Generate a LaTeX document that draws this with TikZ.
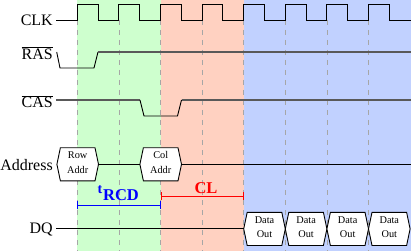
\documentclass[tikz,border=0pt]{standalone}
\usepackage{fontspec}
\setmainfont{Liberation Serif}
\usetikzlibrary{arrows.meta}
\definecolor{cgreen}{RGB}{206,255,206}
\definecolor{csalmon}{RGB}{255,209,193}
\definecolor{cblue}{RGB}{193,209,255}
\definecolor{cdblue}{RGB}{0,0,255}
\definecolor{cred}{RGB}{255,0,0}
\begin{document}
\begin{tikzpicture}[x=1pt,y=-1pt,
  sig/.style={line width=0.9pt, draw=black},
  hi/.style={line width=1.6pt, draw=black!65},
  gridline/.style={draw=black!35, dash pattern=on 5pt off 5pt, line width=0.8pt},
  lab/.style={font=\fontsize{16}{19}\selectfont, anchor=base east, inner sep=0pt},
  small/.style={font=\fontsize{10.3}{12}\selectfont, inner sep=0pt, anchor=base},
  hexa/.style={line width=0.9pt, draw=black, fill=white},
  pics/hexcell/.style 2 args={code={
    \draw[hexa] (-20.8,0) coordinate (-w) -- (-17.3,-16.6) -- (17.3,-16.6)
      -- (20.8,0) coordinate (-e) -- (17.3,16.6) -- (-17.3,16.6) -- cycle;
    \node[small] (-a) at (0,-5.5) {#1};
    \node[small] (-b) at (0,9) {#2};
  }},
]
\useasboundingbox (0,0) rectangle (412,251);
% background phases
\fill[cgreen] (77.3,0) rectangle (160.5,251);
\fill[csalmon] (160.5,0) rectangle (243.7,251);
\fill[cblue] (243.7,0) rectangle (410.5,251);
% dashed grid at rising edges
\foreach \i in {0,...,7} \draw[gridline] ({77.3+41.6*\i},20) -- ++(0,231);
% labels
\node[lab] (clk) at (53,26) {CLK};
\node[lab] (ras) at (53,59.3) {$\overline{\mbox{RAS}}$};
\node[lab] (cas) at (53,107.7) {$\overline{\mbox{CAS}}$};
\node[lab] (addr) at (53,170) {Address};
\node[lab] (dq) at (53,233.3) {DQ};
% clock
\draw[sig] (56,20) \foreach \i in {0,...,7} {
  -- ({77.3+41.6*\i},20) -- ({77.3+41.6*\i},4.3) -- ({98.1+41.6*\i},4.3) -- ({98.1+41.6*\i},20)}
  -- (410.5,20);
% RAS
\draw[sig] (56.7,52) -- (60,68) -- (94,68) -- (98,52);
\draw[hi] (98,52) -- (410.5,52);
% CAS
\draw[hi] (56,100) -- (140,100);
\draw[sig] (140,100) -- (144,116) -- (177.5,116) -- (181.5,100);
\draw[hi] (181.5,100) -- (410.5,100);
% Address
\pic (row) at (77.7,164.3) {hexcell={Row}{Addr}};
\pic (col) at (160.7,164.3) {hexcell={Col}{Addr}};
\coordinate (addrend) at (410.5,164.3);
\draw[sig] (row-e) -- (col-w);
\draw[sig] (col-e) -- (addrend);
% DQ
\pic (d1) at (264.5,228.9) {hexcell={Data}{Out}};
\pic (d2) at (306.1,228.9) {hexcell={Data}{Out}};
\pic (d3) at (347.7,228.9) {hexcell={Data}{Out}};
\pic (d4) at (389.3,228.9) {hexcell={Data}{Out}};
\coordinate (dqstart) at (56,228.9);
\draw[sig] (dqstart) -- (d1-w);
% timing brackets
\coordinate (rcdA) at (77.3,205.3);
\coordinate (rcdB) at (160.5,205.3);
\draw[cdblue, line width=1pt, {Bar[width=8pt]}-{Bar[width=8pt]}] (rcdA) -- (rcdB);
\node[text=cdblue, anchor=base west, inner sep=0pt] (trcd) at (97.5,200)
  {\bfseries{\fontsize{14}{15}\selectfont\raisebox{7pt}{t}}\kern0.8pt{\fontsize{16.5}{18}\selectfont RCD}};
\coordinate (clA) at (160.5,196.3);
\coordinate (clB) at (243.7,196.3);
\draw[cred, line width=1pt, {Bar[width=8pt]}-{Bar[width=8pt]}] (clA) -- (clB);
\node[text=cred, anchor=base, inner sep=0pt, font=\bfseries\fontsize{16.5}{19}\selectfont] (cl) at (206,193) {CL};
\end{tikzpicture}
\end{document}
